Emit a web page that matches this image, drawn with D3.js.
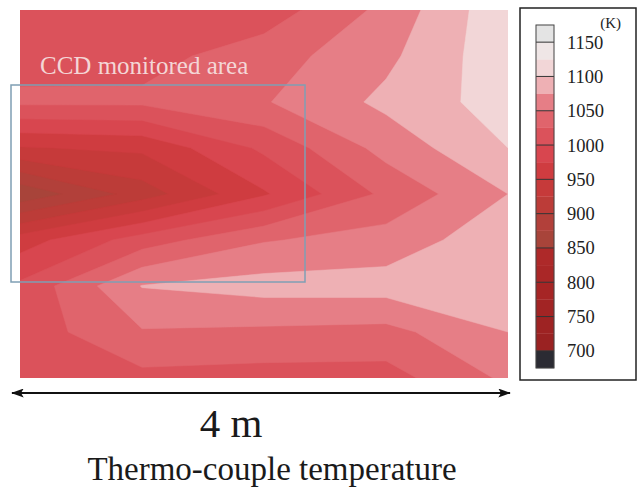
<!DOCTYPE html>
<html>
<head>
<meta charset="utf-8">
<script src="https://cdn.jsdelivr.net/npm/d3@7"></script>
<style>
  body { margin: 0; background: #fff; }
  text { font-family: "Liberation Serif", "DejaVu Serif", serif; }
</style>
</head>
<body>
<svg id="vis"></svg>
<script>
const WIDTH = 640;
const HEIGHT = 487;

// thermo-couple temperatures (K), rows top -> bottom, columns left -> right (0..4 m)
const row0 = [1005, 1008, 1011, 1057, 1120];
const row1 = [1015, 1016, 1038, 1069, 1118];
const row2 = [1030, 1030, 1048, 1081, 1112];
const row3 = [948, 955, 1005, 1059, 1100];
const row4 = [855, 912, 972, 1031, 1075];
const row5 = [963, 1012, 1048, 1060, 1092];
const row6 = [1005, 1076, 1085, 1086, 1090];
const row7 = [1010, 1048, 1045, 1042, 1075];
const row8 = [1000, 1018, 1015, 1015, 1055];
const tempRows = [row0, row1, row2, row3, row4, row5, row6, row7, row8];

// contour levels and the colour of each band (first = below 700 K, last = above 1150 K)
const levels = [700, 725, 750, 775, 800, 825, 850, 875, 900, 925, 950, 975,
                1000, 1025, 1050, 1075, 1100, 1125, 1150];
const bandColors = ["#2b2b33", "#9a2222", "#9e2323", "#a22424", "#a62525", "#aa2727",
                    "#ae2929", "#a8443a", "#b2403a", "#bc3c38", "#c63a3a", "#cf3c40",
                    "#d8464f", "#db525b", "#e0646c", "#e67e86", "#eeb0b4", "#f2d6d7",
                    "#efe6e6", "#e4e4e4"];
const tickTemps = [700, 750, 800, 850, 900, 950, 1000, 1050, 1100, 1150];

const plot = {left: 20, top: 10, right: 508, bottom: 378};

const svg = d3.select("#vis")
    .attr("width", WIDTH)
    .attr("height", HEIGHT);

function drawMap() {
    const nx = tempRows[0].length;
    const ny = tempRows.length;
    const values = tempRows.flat();

    // grid values sit at cell centres in d3.contours space
    const gx = d3.scaleLinear().domain([0.5, nx - 0.5]).range([plot.left, plot.right]);
    const gy = d3.scaleLinear().domain([0.5, ny - 0.5]).range([plot.top, plot.bottom]);
    const path = d3.geoPath(d3.geoTransform({
        point: function(x, y) { this.stream.point(gx(x), gy(y)); }
    }));

    svg.append("clipPath")
        .attr("id", "mapClip")
        .append("rect")
        .attr("x", plot.left)
        .attr("y", plot.top)
        .attr("width", plot.right - plot.left)
        .attr("height", plot.bottom - plot.top);

    const contours = d3.contours().size([nx, ny]).thresholds(levels)(values);

    const g = svg.append("g").attr("clip-path", "url(#mapClip)");
    g.append("rect")
        .attr("x", plot.left)
        .attr("y", plot.top)
        .attr("width", plot.right - plot.left)
        .attr("height", plot.bottom - plot.top)
        .style("fill", bandColors[0]);
    g.selectAll("path")
        .data(contours)
        .join("path")
        .attr("d", path)
        .style("fill", d => bandColors[levels.indexOf(d.value) + 1])
        .style("stroke", d => bandColors[levels.indexOf(d.value) + 1])
        .style("stroke-width", 0.5);

    // CCD monitored area
    svg.append("rect")
        .attr("x", 11)
        .attr("y", 85)
        .attr("width", 294)
        .attr("height", 197)
        .style("fill", "none")
        .style("stroke", "#7f9fb4")
        .style("stroke-width", 1.5);
    svg.append("text")
        .attr("x", 40)
        .attr("y", 74)
        .style("font-size", "25px")
        .style("fill", "#f4d6d6")
        .text("CCD monitored area");

    // 4 m arrow under the map
    const xm = d3.scaleLinear().domain([0, 4]).range([plot.left, plot.right]);
    const defs = svg.append("defs");
    defs.append("marker")
        .attr("id", "arrowHead")
        .attr("viewBox", "0 0 14 10")
        .attr("refX", 13)
        .attr("refY", 5)
        .attr("markerWidth", 14)
        .attr("markerHeight", 9)
        .attr("markerUnits", "userSpaceOnUse")
        .attr("orient", "auto-start-reverse")
        .append("path")
        .attr("d", "M0,0 L14,5 L0,10 L3,5 Z")
        .style("fill", "#111");
    svg.append("line")
        .attr("x1", xm(0) - 8)
        .attr("x2", xm(4) + 2)
        .attr("y1", 393)
        .attr("y2", 393)
        .style("stroke", "#111")
        .style("stroke-width", 1.8)
        .attr("marker-start", "url(#arrowHead)")
        .attr("marker-end", "url(#arrowHead)");
    svg.append("text")
        .attr("x", 231)
        .attr("y", 437)
        .attr("text-anchor", "middle")
        .style("font-size", "41px")
        .style("fill", "#1a1a1a")
        .text("4 m");
    svg.append("text")
        .attr("x", 272)
        .attr("y", 480)
        .attr("text-anchor", "middle")
        .style("font-size", "33px")
        .style("fill", "#1a1a1a")
        .text("Thermo-couple temperature");
}

function drawColorbar() {
    const bar = {x: 536, w: 18};
    const y = d3.scaleLinear().domain([675, 1175]).range([368, 25]);

    svg.append("rect")
        .attr("x", 520)
        .attr("y", 8)
        .attr("width", 116)
        .attr("height", 372)
        .style("fill", "#fff")
        .style("stroke", "#222")
        .style("stroke-width", 1.5);

    const bands = bandColors.map((c, i) => ({
        lo: i === 0 ? 675 : levels[i - 1],
        hi: i === levels.length ? 1175 : levels[i],
        color: c
    }));
    svg.selectAll(".band")
        .data(bands)
        .join("rect")
        .attr("class", "band")
        .attr("x", bar.x)
        .attr("width", bar.w)
        .attr("y", d => y(d.hi))
        .attr("height", d => y(d.lo) - y(d.hi))
        .style("fill", d => d.color)
        .style("stroke", d => d.color)
        .style("stroke-width", 0.3);

    svg.selectAll(".tickLine")
        .data(tickTemps)
        .join("line")
        .attr("class", "tickLine")
        .attr("x1", bar.x)
        .attr("x2", bar.x + bar.w)
        .attr("y1", d => y(d))
        .attr("y2", d => y(d))
        .style("stroke", "#333")
        .style("stroke-width", 1);

    svg.append("rect")
        .attr("x", bar.x)
        .attr("y", y(1175))
        .attr("width", bar.w)
        .attr("height", y(675) - y(1175))
        .style("fill", "none")
        .style("stroke", "#444")
        .style("stroke-width", 1);

    svg.selectAll(".tickLabel")
        .data(tickTemps)
        .join("text")
        .attr("class", "tickLabel")
        .attr("x", 567)
        .attr("y", d => y(d))
        .attr("dy", "0.35em")
        .style("font-size", "18.5px")
        .style("fill", "#222")
        .text(d => d);

    svg.append("text")
        .attr("x", 621)
        .attr("y", 28)
        .attr("text-anchor", "end")
        .style("font-size", "15px")
        .style("fill", "#222")
        .text("(K)");
}

drawMap();
drawColorbar();
</script>
</body>
</html>
